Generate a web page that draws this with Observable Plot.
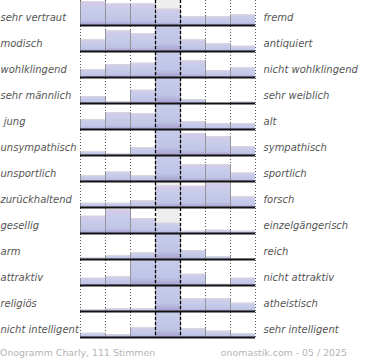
<!DOCTYPE html>
<html><head><meta charset="utf-8">
<script src="https://cdn.jsdelivr.net/npm/d3@7"></script>
<script src="https://cdn.jsdelivr.net/npm/@observablehq/plot@0.6"></script>
<style>
body{margin:0;background:#fff;}
#wrap{position:relative;width:370px;height:360px;overflow:hidden;}
#wrap svg text{white-space:pre;}
.foot{position:absolute;top:348px;font-family:"DejaVu Sans";font-size:9.4px;line-height:10px;color:#b4b4b4;white-space:nowrap;}
</style></head><body><div id="wrap"></div>
<script>
const leftLabels = ["sehr vertraut","modisch","wohlklingend","sehr männlich"," jung","unsympathisch","unsportlich","zurückhaltend","gesellig","arm","attraktiv","religiös","nicht intelligent"];
const rightLabels = ["fremd","antiquiert","nicht wohlklingend","sehr weiblich","alt","sympathisch","sportlich","forsch","einzelgängerisch","reich","nicht attraktiv","atheistisch","sehr intelligent"];
// estimated bar heights per row, 7 answer columns (25 = full row height; larger values are cut off)
const votes = [
  [24, 21.7, 21.7, 16.3, 9, 9, 10.7],
  [11.7, 20.7, 18, 40, 11.7, 7.7, 5.3],
  [8, 13, 14.3, 40, 17, 7, 9.7],
  [7, 2, 13.3, 40, 4, 0, 1.5],
  [10, 17, 16, 40, 8, 6, 6],
  [3.7, 1.7, 8, 40, 22, 19, 9],
  [6, 9.5, 6, 40, 17, 17, 8.5],
  [4.3, 4.3, 6.7, 22, 21.3, 24.3, 11],
  [17.3, 24, 15, 10.3, 2.3, 3.3, 2.3],
  [1.7, 3.7, 6.7, 40, 9, 3, 0.5],
  [7.3, 8.7, 40, 40, 11.3, 1.3, 7.3],
  [1.7, 2.7, 2.7, 40, 12.7, 12.7, 8.3],
  [4.3, 3, 9.7, 40, 9, 6.3, 4]
];
const centerColumn = [3];
const dottedAt = [0, 1, 2, 5, 6, 7];
const dashedAt = [3, 4];
const footerLeft = "Onogramm Charly, 111 Stimmen";
const footerRight = "onomastik.com - 05 / 2025";

const bars = leftLabels.flatMap((row, r) => votes[r].map((value, col) => ({row, col, value})));
const rows = leftLabels.map((left, r) => ({left, right: rightLabels[r]}));

const chart = Plot.plot({
  width: 370, height: 340,
  marginLeft: 80, marginRight: 115, marginTop: 0, marginBottom: 2,
  x: {domain: [0, 7], axis: null},
  y: {domain: [0, 25], axis: null, insetBottom: 1},
  fy: {domain: leftLabels, padding: 0, axis: null},
  style: {fontFamily: "DejaVu Sans", fontSize: "10px", overflow: "visible", background: "#fff"},
  marks: [
    Plot.rect(centerColumn, {x1: d => d, x2: d => d + 1, fill: "#eeeeee"}),
    Plot.ruleX(dottedAt, {stroke: "#555", strokeWidth: 1, strokeDasharray: "1,2"}),
    Plot.rect(bars, {fy: "row", x1: "col", x2: d => d.col + 1, y1: 0, y2: "value", fill: "url(#barGrad)", clip: true}),
    Plot.ruleY(bars, {fy: "row", y: "value", x1: "col", x2: d => d.col + 1, stroke: "#d6d6de", strokeWidth: 1, clip: true}),
    Plot.ruleX(bars, {fy: "row", x: "col", y1: 0, y2: "value", stroke: "#959599", strokeWidth: 1, clip: true}),
    Plot.ruleX(bars, {fy: "row", x: d => d.col + 1, y1: 0, y2: "value", stroke: "#959599", strokeWidth: 1, clip: true}),
    Plot.ruleX(dashedAt, {stroke: "#000", strokeWidth: 1.3, strokeDasharray: "3,2"}),
    Plot.ruleY([0], {stroke: "#111", strokeWidth: 2}),
    Plot.text(rows, {fy: "left", text: "left", frameAnchor: "bottom-left", dx: -80, dy: -5.5, textAnchor: "start", fill: "#555", fontStyle: "italic"}),
    Plot.text(rows, {fy: "left", text: "right", frameAnchor: "bottom-right", dx: 8, dy: -5.5, textAnchor: "start", fill: "#555", fontStyle: "italic"})
  ]
});

const defs = document.createElementNS("http://www.w3.org/2000/svg", "defs");
defs.innerHTML = '<linearGradient id="barGrad" x1="0" y1="0" x2="0" y2="1">' +
  '<stop offset="0" stop-color="#dacaea"/>' +
  '<stop offset="0.3" stop-color="#c8cdea"/>' +
  '<stop offset="0.8" stop-color="#c0c5e7"/>' +
  '<stop offset="1" stop-color="#a8a0d0"/>' +
  '</linearGradient>';
chart.prepend(defs);

const wrap = document.getElementById("wrap");
wrap.appendChild(chart);
const fl = document.createElement("div");
fl.className = "foot"; fl.style.left = "0px"; fl.textContent = footerLeft;
const fr = document.createElement("div");
fr.className = "foot"; fr.style.right = "23px"; fr.textContent = footerRight;
wrap.appendChild(fl); wrap.appendChild(fr);
</script>
</body></html>
